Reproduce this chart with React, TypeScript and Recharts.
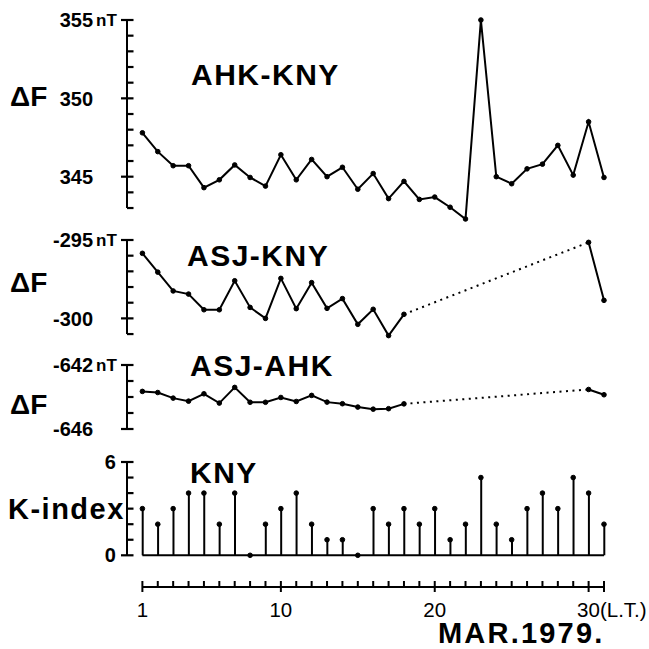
import React from 'react'
import { ComposedChart, Line, Bar, XAxis, YAxis, ReferenceLine } from 'recharts'

// days of March 1979 (local time)
const days = [
  1, 2, 3, 4, 5, 6, 7, 8, 9, 10, 11, 12, 13, 14, 15, 16, 17, 18, 19, 20, 21, 22,
  23, 24, 25, 26, 27, 28, 29, 30, 31,
]

// ΔF AHK-KNY (nT)
const ahkKny = [
  347.8, 346.6, 345.7, 345.7, 344.3, 344.8, 345.75, 344.95, 344.4, 346.4, 344.8,
  346.1, 345.0, 345.6, 344.2, 345.2, 343.6, 344.7, 343.55, 343.7, 343.05, 342.3,
  355.0, 345.0, 344.55, 345.5, 345.8, 347.0, 345.1, 348.5, 344.95,
]

// ΔF ASJ-KNY (nT), no data 19-29
const asjKny = [
  -295.85, -297.05, -298.25, -298.45, -299.45, -299.45, -297.6, -299.3, -300.0,
  -297.45, -299.38, -297.72, -299.36, -298.74, -300.38, -299.42, -301.1, -299.74,
  null, null, null, null, null, null, null, null, null, null, null,
  -295.15, -298.85,
]

// ΔF ASJ-AHK (nT), no data 19-29
const asjAhk = [
  -643.65, -643.72, -644.07, -644.26, -643.8, -644.38, -643.4, -644.33, -644.33,
  -644.03, -644.28, -643.9, -644.32, -644.42, -644.63, -644.76, -644.73, -644.43,
  null, null, null, null, null, null, null, null, null, null, null,
  -643.53, -643.86,
]

// K-index at KNY
const kIndex = [
  3, 2, 3, 4, 4, 2, 4, 0, 2, 3, 4, 2, 1, 1, 0, 3, 2, 3, 2, 3, 1, 2, 5, 2, 1, 3, 4,
  3, 5, 4, 2,
]

const ahkTicks = [343, 344, 345, 346, 347, 348, 349, 350, 351, 352, 353, 354, 355]
const asjKnyTicks = [-301, -300, -299, -298, -297, -296, -295]
const asjAhkTicks = [-646, -645, -644, -643, -642]
const kTicks = [0, 1, 2, 3, 4, 5, 6]
const dayLabels: Record<number, string> = { 1: '1', 10: '10', 20: '20', 30: '30(L.T.)' }
const dayMajor = [1, 10, 20, 30, 31]

// keep only the ends of a gap, for the dotted bridge
const bridge = (arr: (number | null)[]) =>
  arr.map((v, i) =>
    v != null && ((i > 0 && arr[i - 1] == null) || (i < arr.length - 1 && arr[i + 1] == null))
      ? v
      : null
  )

const rows = days.map((day, i) => ({
  day,
  ahk: ahkKny[i],
  asjKny: asjKny[i],
  asjKnyGap: bridge(asjKny)[i],
  asjAhk: asjAhk[i],
  asjAhkGap: bridge(asjAhk)[i],
  k: kIndex[i],
}))

const FONT = '"Liberation Sans", Arial, sans-serif'
const PAD = 12
const LEFT = 127
const RIGHT = 45

type TickSpec = {
  labels: Record<number, string>
  unit?: number
  cross: number[]
  labelRight: number
}

const makeYTick = (spec: TickSpec) => (props: any) => {
  const { y, payload } = props
  const x = LEFT
  const v = payload.value
  const label = spec.labels[v]
  const cross = spec.cross.includes(v)
  return (
    <g>
      <line x1={cross ? x - 6 : x} x2={x + 6.5} y1={y} y2={y} stroke="#000" strokeWidth={2.2} />
      {label && (
        <text x={spec.labelRight} y={y} dy="0.36em" textAnchor="end" fontSize={20}
          fontWeight="bold" fontFamily={FONT} fill="#000">
          {label}
        </text>
      )}
      {label && spec.unit === v && (
        <text x={spec.labelRight + 3} y={y} dy="0.36em" textAnchor="start" fontSize={17}
          fontWeight="bold" fontFamily={FONT} fill="#000">
          nT
        </text>
      )}
    </g>
  )
}

const XTick = (props: any) => {
  const { x, y, payload } = props
  const v = payload.value
  const major = dayMajor.includes(v)
  const label = dayLabels[v]
  return (
    <g>
      <line x1={x} x2={x} y1={y - 6} y2={major ? y + 5 : y} stroke="#000" strokeWidth={2} />
      {label && (
        <text x={v === 30 ? x - 11.5 : x} y={y + 30} textAnchor={v === 30 ? 'start' : 'middle'}
          fontSize={20.5} fontFamily={FONT} fill="#000">
          {label}
        </text>
      )}
    </g>
  )
}

interface PanelProps {
  top: number
  height: number
  domain: [number, number]
  ticks: number[]
  spec: TickSpec
  children: React.ReactNode
}

const Panel = ({ top, height, domain, ticks, spec, children }: PanelProps) => (
  <div style={{ position: 'absolute', left: 0, top: top - PAD }}>
    <ComposedChart
      width={649}
      height={height + 2 * PAD}
      data={rows}
      margin={{ top: PAD, bottom: PAD, left: LEFT - 1, right: RIGHT }}
    >
      <XAxis type="number" dataKey="day" domain={[0, 31]} hide />
      <YAxis
        type="number"
        domain={domain}
        ticks={ticks}
        interval={0}
        width={1}
        axisLine={false}
        tickLine={false}
        tickSize={0}
        tickMargin={0}
        tick={makeYTick(spec)}
      />
      <ReferenceLine
        segment={[{ x: 0, y: ticks[0] }, { x: 0, y: ticks[ticks.length - 1] }]}
        stroke="#000"
        strokeWidth={2}
      />
      {children}
    </ComposedChart>
  </div>
)

const dot = { r: 2.3, fill: '#000', stroke: '#000', strokeWidth: 1 }

const Stem = (props: any) => {
  const { x, y, width, height } = props
  const cx = x + width / 2
  return <line x1={cx} x2={cx} y1={y} y2={y + height} stroke="#000" strokeWidth={2} />
}

const title = { fontSize: 30, fontWeight: 'bold' as const, fontFamily: FONT, letterSpacing: 1.5 }
const side = { fontSize: 28, fontWeight: 'bold' as const, fontFamily: FONT }

export default function App() {
  return (
    <div
      style={{
        position: 'absolute',
        left: 0,
        top: 0,
        width: 649,
        height: 649,
        background: '#fff',
        fontFamily: FONT,
      }}
    >
      <Panel
        top={20}
        height={203.7}
        domain={[342, 355]}
        ticks={ahkTicks}
        spec={{ labels: { 355: '355', 350: '350', 345: '345' }, unit: 355, cross: [355, 350, 345], labelRight: 93 }}
      >
        <Line dataKey="ahk" stroke="#000" strokeWidth={2} dot={dot} activeDot={false} isAnimationActive={false} />
      </Panel>

      <Panel
        top={240.3}
        height={101.9}
        domain={[-301.5, -295]}
        ticks={asjKnyTicks}
        spec={{ labels: { '-295': '-295', '-300': '-300' }, unit: -295, cross: [-295, -300], labelRight: 93 }}
      >
        <Line dataKey="asjKnyGap" stroke="#000" strokeWidth={2} strokeDasharray="2 4.5" connectNulls
          dot={false} activeDot={false} isAnimationActive={false} />
        <Line dataKey="asjKny" stroke="#000" strokeWidth={2} dot={dot} activeDot={false} isAnimationActive={false} />
      </Panel>

      <Panel
        top={364.5}
        height={64}
        domain={[-646, -642]}
        ticks={asjAhkTicks}
        spec={{ labels: { '-642': '-642', '-646': '-646' }, unit: -642, cross: [-642, -646], labelRight: 93 }}
      >
        <Line dataKey="asjAhkGap" stroke="#000" strokeWidth={2} strokeDasharray="2 4.5" connectNulls
          dot={false} activeDot={false} isAnimationActive={false} />
        <Line dataKey="asjAhk" stroke="#000" strokeWidth={2} dot={dot} activeDot={false} isAnimationActive={false} />
      </Panel>

      <Panel
        top={462.2}
        height={93.3}
        domain={[0, 6]}
        ticks={kTicks}
        spec={{ labels: { 6: '6', 0: '0' }, cross: [6, 0], labelRight: 116 }}
      >
        <ReferenceLine segment={[{ x: 1, y: 0 }, { x: 31, y: 0 }]} stroke="#000" strokeWidth={2} />
        <Bar dataKey="k" barSize={2} shape={<Stem />} isAnimationActive={false} />
        <Line dataKey="k" stroke="none" dot={dot} activeDot={false} isAnimationActive={false} />
      </Panel>

      <div style={{ position: 'absolute', left: 0, top: 587 - 20 }}>
        <ComposedChart width={649} height={70} data={rows} margin={{ top: 10, bottom: 0, left: LEFT, right: RIGHT }}>
          <XAxis
            type="number"
            dataKey="day"
            domain={[0, 31]}
            ticks={days}
            interval={0}
            height={50}
            axisLine={false}
            tickLine={false}
            tickSize={0}
            tickMargin={0}
            tick={<XTick />}
          />
          <YAxis hide type="number" domain={[0, 1]} allowDataOverflow />
          <Line dataKey="k" stroke="none" dot={false} activeDot={false} isAnimationActive={false} />
          <ReferenceLine
            segment={[{ x: 1, y: 0 }, { x: 31, y: 0 }]}
            stroke="#000"
            strokeWidth={2}
            ifOverflow="visible"
          />
        </ComposedChart>
      </div>

      <svg width={649} height={649} style={{ position: 'absolute', left: 0, top: 0, pointerEvents: 'none' }}>
        <text x={191} y={85} {...title}>AHK-KNY</text>
        <text x={187} y={266} {...title}>ASJ-KNY</text>
        <text x={190} y={376} {...title}>ASJ-AHK</text>
        <text x={190} y={483} {...title}>KNY</text>
        <text x={10} y={106} {...side}>ΔF</text>
        <text x={10} y={292} {...side}>ΔF</text>
        <text x={10} y={414} {...side}>ΔF</text>
        <text x={8} y={519} fontSize={29} fontWeight="bold" fontFamily={FONT} letterSpacing={1.5}>K-index</text>
        <text x={438} y={643} fontSize={29} fontWeight="bold" fontFamily={FONT} letterSpacing={2.2}>MAR.1979.</text>
      </svg>
    </div>
  )
}
